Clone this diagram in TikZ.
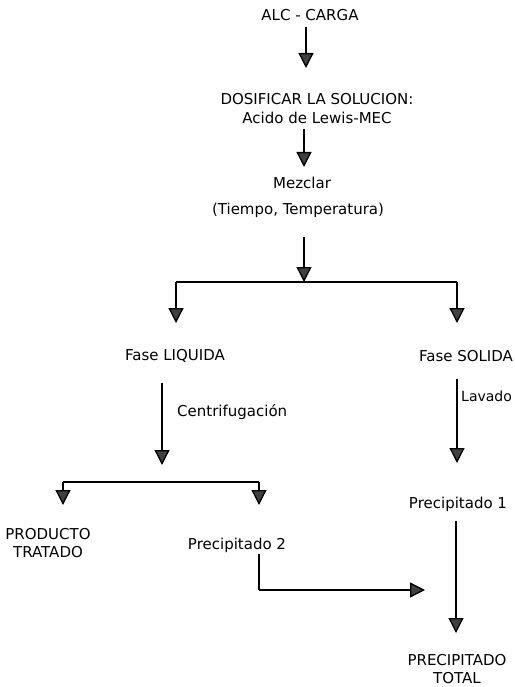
\documentclass[tikz,border=0pt]{standalone}
\usepackage{fontspec}
\setmainfont{DejaVu Sans}
\usetikzlibrary{arrows.meta}
\begin{document}
\begin{tikzpicture}[x=1pt,y=-1pt,
  lbl/.style={inner sep=0pt,font=\fontsize{15}{18}\selectfont,align=center},
  arr/.style={line width=1.3pt,-{Triangle[width=15pt,length=15pt,fill=black!75]}},
  ln/.style={line width=1.3pt}]
\useasboundingbox (0,0) rectangle (514,687);
% texts
\node[lbl] (alc) at (310,15) {ALC - CARGA};
\node[lbl] (dos) at (317,99) {DOSIFICAR LA SOLUCION:};
\node[lbl] (acido) at (317,118) {Acido de Lewis-MEC};
\node[lbl] (mez) at (302,183) {Mezclar};
\node[lbl] (tiempo) at (298,210) {(Tiempo, Temperatura)};
\node[lbl] (liq) at (175,356) {Fase LIQUIDA};
\node[lbl] (sol) at (466,356) {Fase SOLIDA};
\node[lbl,anchor=west] (cent) at (177,412) {Centrifugación};
\node[lbl,anchor=west,font=\fontsize{14}{17}\selectfont] (lav) at (461,396) {Lavado};
\node[lbl] (prod) at (48,543) {PRODUCTO\\TRATADO};
\node[lbl] (p2) at (237,545) {Precipitado 2};
\node[lbl] (p1) at (458,504) {Precipitado 1};
\node[lbl] (tot) at (457,669) {PRECIPITADO\\TOTAL};
% coordinates
\coordinate (t1) at (306,68);
\coordinate (t2) at (304,167);
\coordinate (j1) at (304,282);
\coordinate (l1) at (176,282);
\coordinate (r1) at (457,282);
\coordinate (tl1) at (176,323);
\coordinate (tr1) at (457,323);
\coordinate (tl2) at (162,465);
\coordinate (tr2) at (457,463);
\coordinate (l2) at (63,482);
\coordinate (r2) at (259,482);
\coordinate (tl3) at (63,505);
\coordinate (tr3) at (259,505);
\coordinate (k) at (259,590);
\coordinate (tk) at (425,590);
\coordinate (tt) at (456,633);
% connectors
\draw[arr] (alc.south -| t1) ++(0,6) -- (t1);
\draw[arr] (acido.south -| t2) ++(0,5) -- (t2);
\draw[arr] (tiempo.south -| j1) ++(0,20) -- (j1);
\draw[ln] (l1) -- (r1);
\draw[arr] (l1) -- (tl1);
\draw[arr] (r1) -- (tr1);
\draw[arr] (liq.south -| tl2) ++(0,20) -- (tl2);
\draw[arr] (sol.south -| tr2) ++(0,17) -- (tr2);
\draw[ln] (l2) -- (r2);
\draw[arr] (l2) -- (tl3);
\draw[arr] (r2) -- (tr3);
\draw[arr] (p1.south -| tt) ++(0,10) -- (tt);
\draw[ln] (p2.south -| k) ++(0,2) -- (k);
\draw[arr] (k) -- (tk);
\end{tikzpicture}
\end{document}
